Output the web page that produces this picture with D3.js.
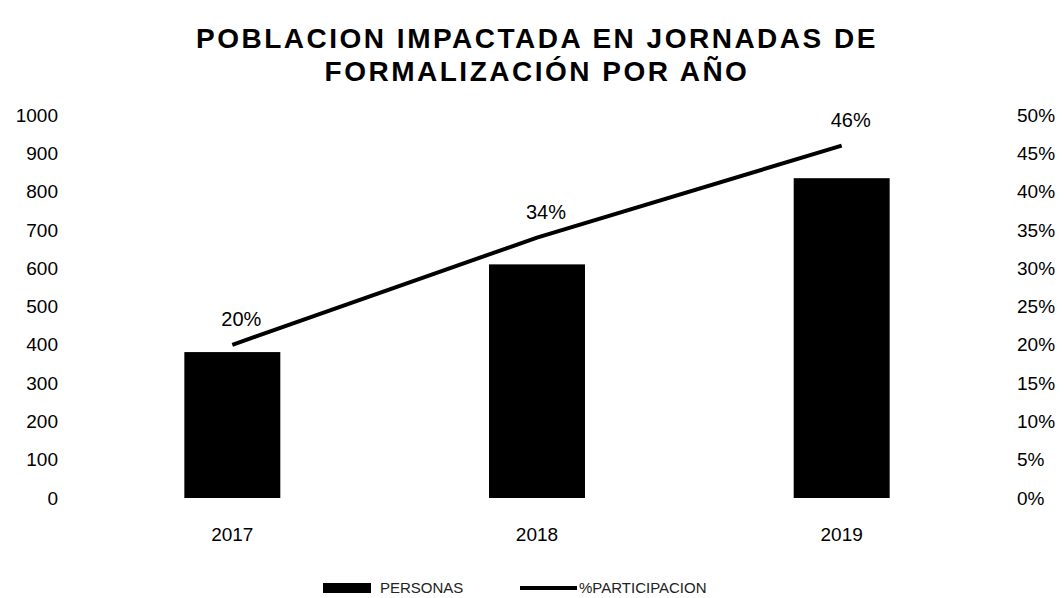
<!DOCTYPE html>
<html>
<head>
<meta charset="utf-8">
<script src="https://cdn.jsdelivr.net/npm/d3@7"></script>
<style>
  body { margin: 0; background: #fff; }
  svg { display: block; font-family: "Liberation Sans", Arial, sans-serif; }
</style>
</head>
<body>
<script>
// data
const years = ["2017", "2018", "2019"];
const personas = [381, 610, 835];
const participacion = [0.20, 0.34, 0.46];
const leftTicks = [0, 100, 200, 300, 400, 500, 600, 700, 800, 900, 1000];
const rightTicks = [0, 0.05, 0.10, 0.15, 0.20, 0.25, 0.30, 0.35, 0.40, 0.45, 0.50];
const titleLines = ["POBLACION IMPACTADA EN JORNADAS DE", "FORMALIZACIÓN POR AÑO"];
const legendLabels = ["PERSONAS", "%PARTICIPACION"];

const width = 1064, height = 598;

const svg = d3.select("body").append("svg")
    .attr("width", width)
    .attr("height", height);

const x = d3.scaleBand()
    .domain(years)
    .range([32, 1042])
    .paddingInner(0.685)
    .paddingOuter(0.5);

const y = d3.scaleLinear()
    .domain([0, 1000])
    .range([498, 115]);

const y2 = d3.scaleLinear()
    .domain([0, 0.5])
    .range([498, 115]);

// title
svg.append("g")
    .attr("text-anchor", "middle")
    .attr("font-weight", "bold")
    .attr("font-size", 28)
    .attr("letter-spacing", 2.5)
  .selectAll("text")
  .data(titleLines)
  .join("text")
    .attr("x", 537)
    .attr("y", (d, i) => 48 + i * 33)
    .text(d => d);

// left axis labels
svg.append("g")
    .attr("text-anchor", "end")
    .attr("font-size", 19)
  .selectAll("text")
  .data(leftTicks)
  .join("text")
    .attr("x", 58)
    .attr("y", d => y(d))
    .attr("dy", "0.35em")
    .text(d => d);

// right axis labels
svg.append("g")
    .attr("text-anchor", "start")
    .attr("font-size", 19)
  .selectAll("text")
  .data(rightTicks)
  .join("text")
    .attr("x", 1017)
    .attr("y", d => y2(d))
    .attr("dy", "0.35em")
    .text(d3.format(".0%"));

// bars
svg.append("g")
  .selectAll("rect")
  .data(years)
  .join("rect")
    .attr("x", d => x(d))
    .attr("y", (d, i) => y(personas[i]))
    .attr("width", x.bandwidth())
    .attr("height", (d, i) => y(0) - y(personas[i]))
    .attr("fill", "#000");

// participation line
const line = d3.line()
    .x((d, i) => x(years[i]) + x.bandwidth() / 2)
    .y(d => y2(d));

svg.append("path")
    .datum(participacion)
    .attr("d", line)
    .attr("fill", "none")
    .attr("stroke", "#000")
    .attr("stroke-width", 4);

svg.append("g")
    .attr("text-anchor", "middle")
    .attr("font-size", 20)
  .selectAll("text")
  .data(participacion)
  .join("text")
    .attr("x", (d, i) => x(years[i]) + x.bandwidth() / 2 + 9)
    .attr("y", d => y2(d) - 19)
    .text(d3.format(".0%"));

// x labels
svg.append("g")
    .attr("text-anchor", "middle")
    .attr("font-size", 19)
  .selectAll("text")
  .data(years)
  .join("text")
    .attr("x", d => x(d) + x.bandwidth() / 2)
    .attr("y", 541)
    .text(d => d);

// legend
const legend = svg.append("g")
    .attr("font-size", 15)
    .attr("fill", "#222");

legend.append("rect")
    .attr("x", 323)
    .attr("y", 583)
    .attr("width", 48)
    .attr("height", 10)
    .attr("fill", "#000");

legend.append("text")
    .attr("x", 380)
    .attr("y", 588)
    .attr("dy", "0.35em")
    .text(legendLabels[0]);

legend.append("line")
    .attr("x1", 520)
    .attr("x2", 577)
    .attr("y1", 588)
    .attr("y2", 588)
    .attr("stroke", "#000")
    .attr("stroke-width", 4);

legend.append("text")
    .attr("x", 579)
    .attr("y", 588)
    .attr("dy", "0.35em")
    .text(legendLabels[1]);
</script>
</body>
</html>
